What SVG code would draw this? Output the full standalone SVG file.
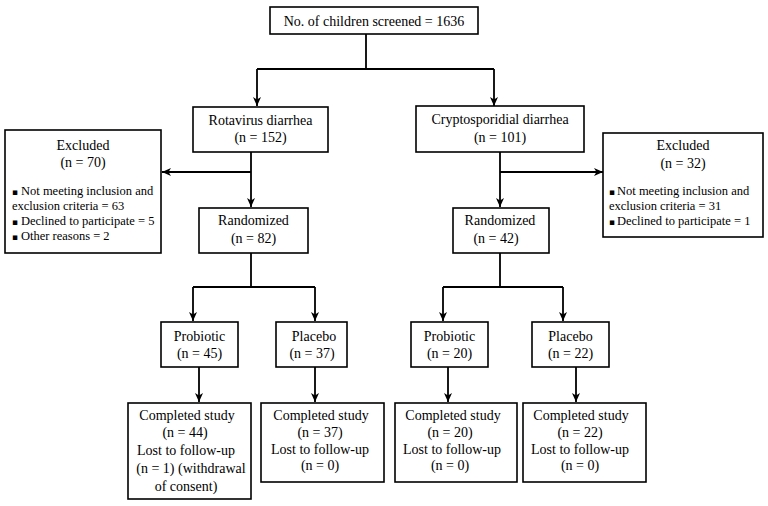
<svg xmlns="http://www.w3.org/2000/svg" width="768" height="506" viewBox="0 0 768 506">
<defs>
<marker id="arr" markerUnits="userSpaceOnUse" markerWidth="10" markerHeight="10" refX="9" refY="5" orient="auto">
<path d="M0,1 L9,5 L0,9 L2.5,5 Z" fill="#000"/>
</marker>
<style>
.box{fill:#fff;stroke:#000;stroke-width:1.6}
.t{font-family:"Liberation Serif","Times New Roman",serif;font-size:14px;fill:#000;text-anchor:middle}
.s{font-family:"Liberation Serif","Times New Roman",serif;font-size:12.5px;fill:#000}
.b{font-family:"DejaVu Sans",sans-serif;font-size:9px}
.c{fill:none;stroke:#000;stroke-width:1.8}
.a{fill:none;stroke:#000;stroke-width:1.8;marker-end:url(#arr)}
</style>
</defs>
<rect width="768" height="506" fill="#fff"/>
<g id="connectors">
<path class="c" d="M366 34 V69 M257 69 H494"/>
<path class="a" d="M257 69 V106"/>
<path class="a" d="M494 69 V106"/>
<path class="a" d="M251 152 V207"/>
<path class="a" d="M251 172 H162"/>
<path class="a" d="M500 152 V207"/>
<path class="a" d="M500 172 H603"/>
<path class="c" d="M251 253 V287 M193 287 H315"/>
<path class="a" d="M193 287 V321"/>
<path class="a" d="M315 287 V321"/>
<path class="c" d="M500 253 V287 M443 287 H563"/>
<path class="a" d="M443 287 V321"/>
<path class="a" d="M563 287 V321"/>
<path class="a" d="M199 367 V402"/>
<path class="a" d="M315 367 V402"/>
<path class="a" d="M448 367 V402"/>
<path class="a" d="M576 367 V402"/>
</g>
<g id="screened">
<rect class="box" x="270" y="7" width="208" height="27"/>
<text class="t" x="374" y="26">No. of children screened = 1636</text>
</g>
<g id="rotavirus">
<rect class="box" x="193" y="107" width="135" height="45"/>
<text class="t" x="260.5" y="125">Rotavirus diarrhea</text>
<text class="t" x="260.5" y="142">(n = 152)</text>
</g>
<g id="crypto">
<rect class="box" x="416" y="106" width="168" height="46"/>
<text class="t" x="500" y="124">Cryptosporidial diarrhea</text>
<text class="t" x="500" y="142">(n = 101)</text>
</g>
<g id="excluded-left">
<rect class="box" x="5" y="130" width="156" height="123"/>
<text class="t" x="83" y="150">Excluded</text>
<text class="t" x="83" y="167">(n = 70)</text>
<text class="s" y="195"><tspan class="b" x="12">▪</tspan><tspan x="21">Not meeting inclusion and</tspan></text>
<text class="s" x="12" y="210">exclusion criteria = 63</text>
<text class="s" y="225"><tspan class="b" x="12">▪</tspan><tspan x="21">Declined to participate = 5</tspan></text>
<text class="s" y="240"><tspan class="b" x="12">▪</tspan><tspan x="21">Other reasons = 2</tspan></text>
</g>
<g id="excluded-right">
<rect class="box" x="603" y="133" width="160" height="104"/>
<text class="t" x="683" y="150">Excluded</text>
<text class="t" x="683" y="168">(n = 32)</text>
<text class="s" y="195"><tspan class="b" x="609">▪</tspan><tspan x="617">Not meeting inclusion and</tspan></text>
<text class="s" x="609" y="210">exclusion criteria = 31</text>
<text class="s" y="225"><tspan class="b" x="609">▪</tspan><tspan x="617">Declined to participate = 1</tspan></text>
</g>
<g id="randomized-left">
<rect class="box" x="199" y="208" width="109" height="45"/>
<text class="t" x="253.5" y="225">Randomized</text>
<text class="t" x="253.5" y="243">(n = 82)</text>
</g>
<g id="randomized-right">
<rect class="box" x="453" y="208" width="96" height="45"/>
<text class="t" x="500" y="225">Randomized</text>
<text class="t" x="496" y="243">(n = 42)</text>
</g>
<g id="probiotic-left">
<rect class="box" x="161" y="322" width="77" height="45"/>
<text class="t" x="199.5" y="341">Probiotic</text>
<text class="t" x="199.5" y="358">(n = 45)</text>
</g>
<g id="placebo-left">
<rect class="box" x="276" y="322" width="71" height="45"/>
<text class="t" x="314" y="341">Placebo</text>
<text class="t" x="312" y="358">(n = 37)</text>
</g>
<g id="probiotic-right">
<rect class="box" x="411" y="322" width="77" height="45"/>
<text class="t" x="449.5" y="341">Probiotic</text>
<text class="t" x="449.5" y="358">(n = 20)</text>
</g>
<g id="placebo-right">
<rect class="box" x="532" y="322" width="77" height="45"/>
<text class="t" x="570.5" y="341">Placebo</text>
<text class="t" x="570.5" y="358">(n = 22)</text>
</g>
<g id="completed-1">
<rect class="box" x="128" y="403" width="123" height="96"/>
<text class="t" x="187" y="420">Completed study</text>
<text class="t" x="185" y="437">(n = 44)</text>
<text class="t" x="186" y="455">Lost to follow-up</text>
<text class="t" x="191" y="473">(n = 1) (withdrawal</text>
<text class="t" x="186" y="491">of consent)</text>
</g>
<g id="completed-2">
<rect class="box" x="261" y="403" width="123" height="79"/>
<text class="t" x="321" y="420">Completed study</text>
<text class="t" x="320" y="437">(n = 37)</text>
<text class="t" x="320" y="454">Lost to follow-up</text>
<text class="t" x="320" y="470">(n = 0)</text>
</g>
<g id="completed-3">
<rect class="box" x="395" y="403" width="122" height="79"/>
<text class="t" x="453" y="420">Completed study</text>
<text class="t" x="450" y="437">(n = 20)</text>
<text class="t" x="452" y="454">Lost to follow-up</text>
<text class="t" x="450" y="470">(n = 0)</text>
</g>
<g id="completed-4">
<rect class="box" x="523" y="403" width="123" height="79"/>
<text class="t" x="581" y="420">Completed study</text>
<text class="t" x="580" y="437">(n = 22)</text>
<text class="t" x="580" y="454">Lost to follow-up</text>
<text class="t" x="580" y="470">(n = 0)</text>
</g>
</svg>
